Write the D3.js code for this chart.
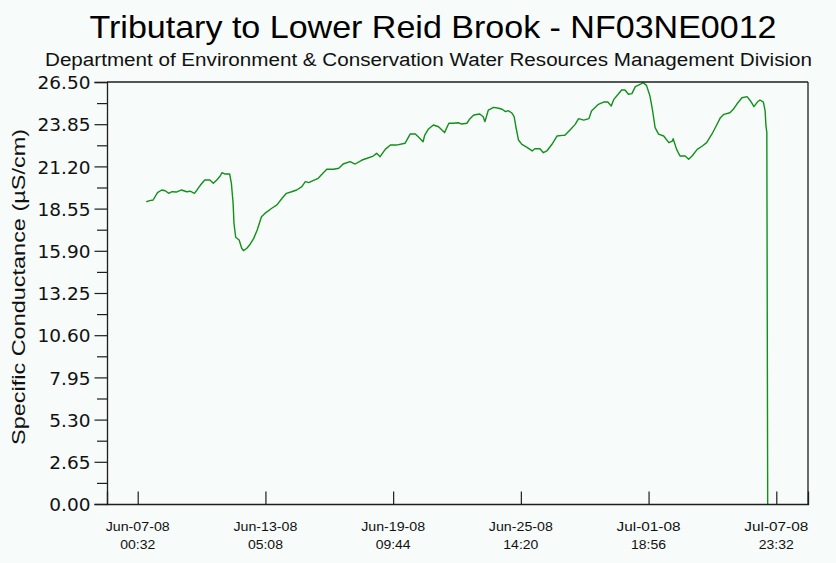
<!DOCTYPE html>
<html><head><meta charset="utf-8">
<script src="https://cdn.jsdelivr.net/npm/d3@7"></script>
<style>
html,body{margin:0;padding:0;background:#f7fbf9;}
svg{display:block;}
</style></head>
<body>
<svg id="chart" width="836" height="563"></svg>
<script>
// ---- data ----
const title = "Tributary to Lower Reid Brook - NF03NE0012";
const subtitle = "Department of Environment & Conservation Water Resources Management Division";
const yLabel = "Specific Conductance (\u00B5S/cm)";
const seriesStart = "2008-06-07T00:32:00Z";
const elapsedHours = [10,14,18,23,28,32,36,40,45,51,57,61,66,69,73,78,84,88,92,96,98,102,107,109,111,112,114,118,121,123,127,131,135,139,144,148,156,162,168,173,179,185,191,195,199,204,210,216,220,228,234,239,247,253,261,267,274,278,282,288,294,301,311,317,323,327,332,334,338,344,350,354,357,362,367,373,377,383,386,391,398,402,404,408,414,420,424,428,431,435,438,440,443,447,453,459,462,468,472,476,482,488,494,497,503,509,513,519,525,528,536,542,547,551,554,559,563,567,571,575,579,585,588,592,596,599,602,606,612,618,622,623,627,631,637,641,645,651,657,662,668,672,678,682,689,693,697,703,709,713,717,721,724,728,730,731,732,733];
const conductance = [18.98,19.05,19.09,19.55,19.72,19.67,19.51,19.61,19.59,19.72,19.61,19.64,19.51,19.72,20.03,20.35,20.35,20.14,20.35,20.60,20.80,20.72,20.72,20.14,18.88,17.63,16.75,16.58,16.06,15.91,16.06,16.33,16.68,17.21,18.04,18.25,18.57,18.78,19.20,19.51,19.61,19.72,19.93,20.24,20.18,20.30,20.45,20.80,21.02,21.02,21.08,21.35,21.50,21.35,21.60,21.71,21.85,22.02,21.81,22.27,22.54,22.54,22.65,23.23,23.23,23.03,22.75,23.17,23.53,23.80,23.69,23.49,23.32,23.91,23.91,23.94,23.86,23.91,24.16,24.43,24.49,24.32,24.01,24.74,24.91,24.85,24.79,24.64,24.70,24.57,24.32,23.69,22.86,22.58,22.39,22.17,22.31,22.31,22.06,22.17,22.59,23.11,23.15,23.15,23.49,23.84,24.20,24.11,24.20,24.68,25.10,25.24,25.24,24.99,25.41,25.73,26.00,26.00,25.73,25.77,26.21,26.36,26.46,26.29,25.62,24.74,23.63,23.23,23.11,22.69,22.79,22.94,22.27,21.85,21.85,21.65,21.85,22.27,22.48,22.69,23.22,23.63,24.26,24.47,24.57,24.79,25.10,25.51,25.58,25.31,24.95,25.24,25.37,25.24,24.68,23.74,23.32,0];
const xDomain = ["2008-06-05T12:48:00Z", "2008-07-09T12:26:00Z"];
const xTickTimes = ["2008-06-07T00:32:00Z","2008-06-13T05:08:00Z","2008-06-19T09:44:00Z","2008-06-25T14:20:00Z","2008-07-01T18:56:00Z","2008-07-07T23:32:00Z"];
const xTickDates = ["Jun-07-08","Jun-13-08","Jun-19-08","Jun-25-08","Jul-01-08","Jul-07-08"];
const xTickClock = ["00:32","05:08","09:44","14:20","18:56","23:32"];
const yTicks = [0,2.65,5.30,7.95,10.60,13.25,15.90,18.55,21.20,23.85,26.50];
const yMinorTicks = [1.325,3.975,6.625,9.275,11.925,14.575,17.225,19.875,22.525,25.175];

// ---- layout ----
const svg = d3.select("#chart");
const W = 836, H = 563;
const m = {left:107, right:28, top:82, bottom:59};
const iw = W - m.left - m.right, ih = H - m.top - m.bottom;
const axisColor = "#1e1e1e";

svg.append("rect").attr("width",W).attr("height",H).attr("fill","#f7fbf9");

const t0 = new Date(seriesStart).getTime();
const data = elapsedHours.map((h,i)=>({t:new Date(t0 + h*3600000), v:conductance[i]}));

const x = d3.scaleUtc().domain(xDomain.map(s=>new Date(s))).range([m.left, m.left+iw]);
const y = d3.scaleLinear().domain([0,26.5]).range([m.top+ih, m.top]);

function fit(sel, w){ sel.attr("textLength", w).attr("lengthAdjust","spacingAndGlyphs"); return sel; }

// titles
fit(svg.append("text").attr("x",433).attr("y",37.5).attr("text-anchor","middle")
  .attr("font-family","Liberation Sans, Arial, sans-serif").attr("font-size",32).attr("fill","#000")
  .text(title), 687);
fit(svg.append("text").attr("x",428.5).attr("y",65.5).attr("text-anchor","middle")
  .attr("font-family","Liberation Sans, Arial, sans-serif").attr("font-size",18).attr("fill","#111")
  .text(subtitle), 767);

// line
const g = svg.append("g");
g.append("path").datum(data)
  .attr("fill","none").attr("stroke","#12901a").attr("stroke-width",1.4)
  .attr("stroke-linejoin","round")
  .attr("d", d3.line().x(d=>x(d.t)).y(d=>y(d.v)));

// frame
svg.append("line").attr("x1",m.left).attr("x2",m.left+iw).attr("y1",m.top).attr("y2",m.top)
  .attr("stroke",axisColor).attr("stroke-width",1.3);
svg.append("line").attr("x1",m.left+iw).attr("x2",m.left+iw).attr("y1",m.top).attr("y2",m.top+ih)
  .attr("stroke",axisColor).attr("stroke-width",1.3);

// y axis
const yAxis = d3.axisLeft(y).tickValues(yTicks).tickFormat(d3.format(".2f")).tickSize(12.5).tickPadding(4);
const ya = svg.append("g").attr("transform",`translate(${m.left},0)`).call(yAxis);
ya.select(".domain").attr("stroke",axisColor).attr("stroke-width",1.3);
ya.selectAll(".tick line").attr("stroke",axisColor).attr("stroke-width",1.2);
ya.selectAll(".tick text").attr("font-family","DejaVu Sans, sans-serif").attr("font-size",18.5)
  .attr("fill","#111").attr("dy","0.36em");
const yMinor = d3.axisLeft(y).tickValues(yMinorTicks).tickFormat("").tickSize(10);
const ym = svg.append("g").attr("transform",`translate(${m.left},0)`).call(yMinor);
ym.select(".domain").remove();
ym.selectAll(".tick line").attr("stroke",axisColor).attr("stroke-width",1.2);

// x axis (ticks inside)
const xTicks = xTickTimes.map(s=>new Date(s));
const xAxis = d3.axisBottom(x).tickValues(xTicks).tickSize(-12.5).tickFormat("");
const xa = svg.append("g").attr("transform",`translate(0,${m.top+ih})`).call(xAxis);
xa.select(".domain").attr("stroke",axisColor).attr("stroke-width",1.3);
xa.selectAll(".tick line").attr("stroke",axisColor).attr("stroke-width",1.2);
xTicks.forEach((t,i)=>{
  fit(svg.append("text").attr("x",x(t)).attr("y",530.5).attr("text-anchor","middle")
    .attr("font-family","Liberation Sans, Arial, sans-serif").attr("font-size",12.5).attr("fill","#111")
    .text(xTickDates[i]), 64);
  fit(svg.append("text").attr("x",x(t)).attr("y",548.5).attr("text-anchor","middle")
    .attr("font-family","Liberation Sans, Arial, sans-serif").attr("font-size",12.5).attr("fill","#111")
    .text(xTickClock[i]), 35);
});

// y label
fit(svg.append("text").attr("transform","translate(25,287) rotate(-90)").attr("text-anchor","middle")
  .attr("font-family","Liberation Sans, Arial, sans-serif").attr("font-size",19).attr("fill","#111")
  .text(yLabel), 316);
</script>
</body></html>
